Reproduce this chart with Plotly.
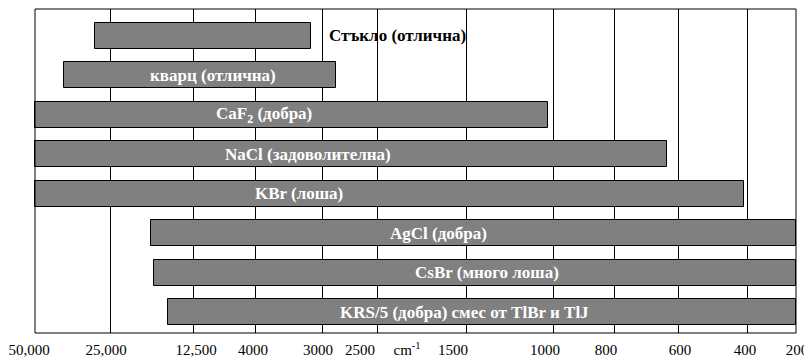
import numpy as np
import plotly.graph_objects as go

# ---- data ----
materials = ["Стъкло", "кварц", "CaF2", "NaCl", "KBr", "AgCl", "CsBr", "KRS-5"]
bar_labels = ["Стъкло (отлична)", "кварц (отлична)", "CaF<sub>2</sub> (добра)",
              "NaCl (задоволителна)", "KBr (лоша)", "AgCl (добра)",
              "CsBr (много лоша)", "KRS/5 (добра) смес от TlBr и TlJ"]
range_start_cm = [30000, 40300, 50000, 50000, 50000, 18800, 18400, 16300]
range_end_cm = [3160, 2870, 1030, 634, 409, 200, 200, 200]

# axis break points (wavenumber, cm-1) with gridlines
grid_cm = [50000, 25000, 12500, 4000, 3000, 2500, 1500, 1000, 800, 600, 400, 200]
tick_text = ["50,000", "25,000", "12,500", "4000", "3000", "2500", "cm<sup>-1</sup>",
             "1500", "1000", "800", "600", "400", "200"]

# ---- layout helpers (piecewise-linear wavenumber scale) ----
grid_pos = [0, 75, 158, 220, 287, 342, 431, 518, 579, 643, 712, 761]
tick_pos = [-6, 71, 161, 218, 283, 325, 372, 418, 510, 571, 645, 710, 762]
label_x = [292, 178, 229, 273, 264, 403, 452, 429]


def to_pos(wn):
    return np.interp(wn, grid_cm[::-1], grid_pos[::-1])


start_p = to_pos(np.array(range_start_cm))
end_p = to_pos(np.array(range_end_cm))

fig = go.Figure()
fig.add_trace(go.Bar(
    y=materials, x=end_p - start_p, base=start_p, orientation="h",
    width=0.66, marker=dict(color="#808080", line=dict(color="black", width=1)),
    hoverinfo="skip", showlegend=False,
))

FONT = "Liberation Serif"
for i, (lab, lx) in enumerate(zip(bar_labels, label_x)):
    outside = i == 0
    fig.add_annotation(
        x=lx, y=materials[i], xref="x", yref="y",
        text=f"<b>{lab}</b>", showarrow=False,
        xanchor="left" if outside else "center",
        font=dict(family=FONT, size=17, color="black" if outside else "white"),
    )

# frame
fig.add_shape(type="rect", xref="x", yref="paper", x0=grid_pos[0], x1=grid_pos[-1],
              y0=0, y1=1, line=dict(color="black", width=1), layer="above")

# the page body keeps its default 8px margin, so the figure is sized to fit
fig.update_layout(
    width=804, height=353,
    margin=dict(l=12, r=12, t=1, b=28, autoexpand=False),
    plot_bgcolor="white", paper_bgcolor="white",
    bargap=0,
    xaxis=dict(
        range=[-15, 765], automargin=False,
        showline=False, zeroline=False, showgrid=False,
        tickmode="array", tickvals=tick_pos, ticktext=tick_text, ticks="",
        tickfont=dict(family=FONT, size=15, color="black"),
        ticklabeloverflow="allow", ticklabelstandoff=6,
        minor=dict(tickmode="array", tickvals=grid_pos[1:-1], showgrid=True,
                   gridcolor="black", gridwidth=1, ticks=""),
    ),
    yaxis=dict(
        type="category", categoryorder="array", categoryarray=materials,
        range=[7.53, -0.68], showticklabels=False, showgrid=False,
        zeroline=False, showline=False, ticks="", automargin=False,
    ),
)

fig.write_html("out.html")
